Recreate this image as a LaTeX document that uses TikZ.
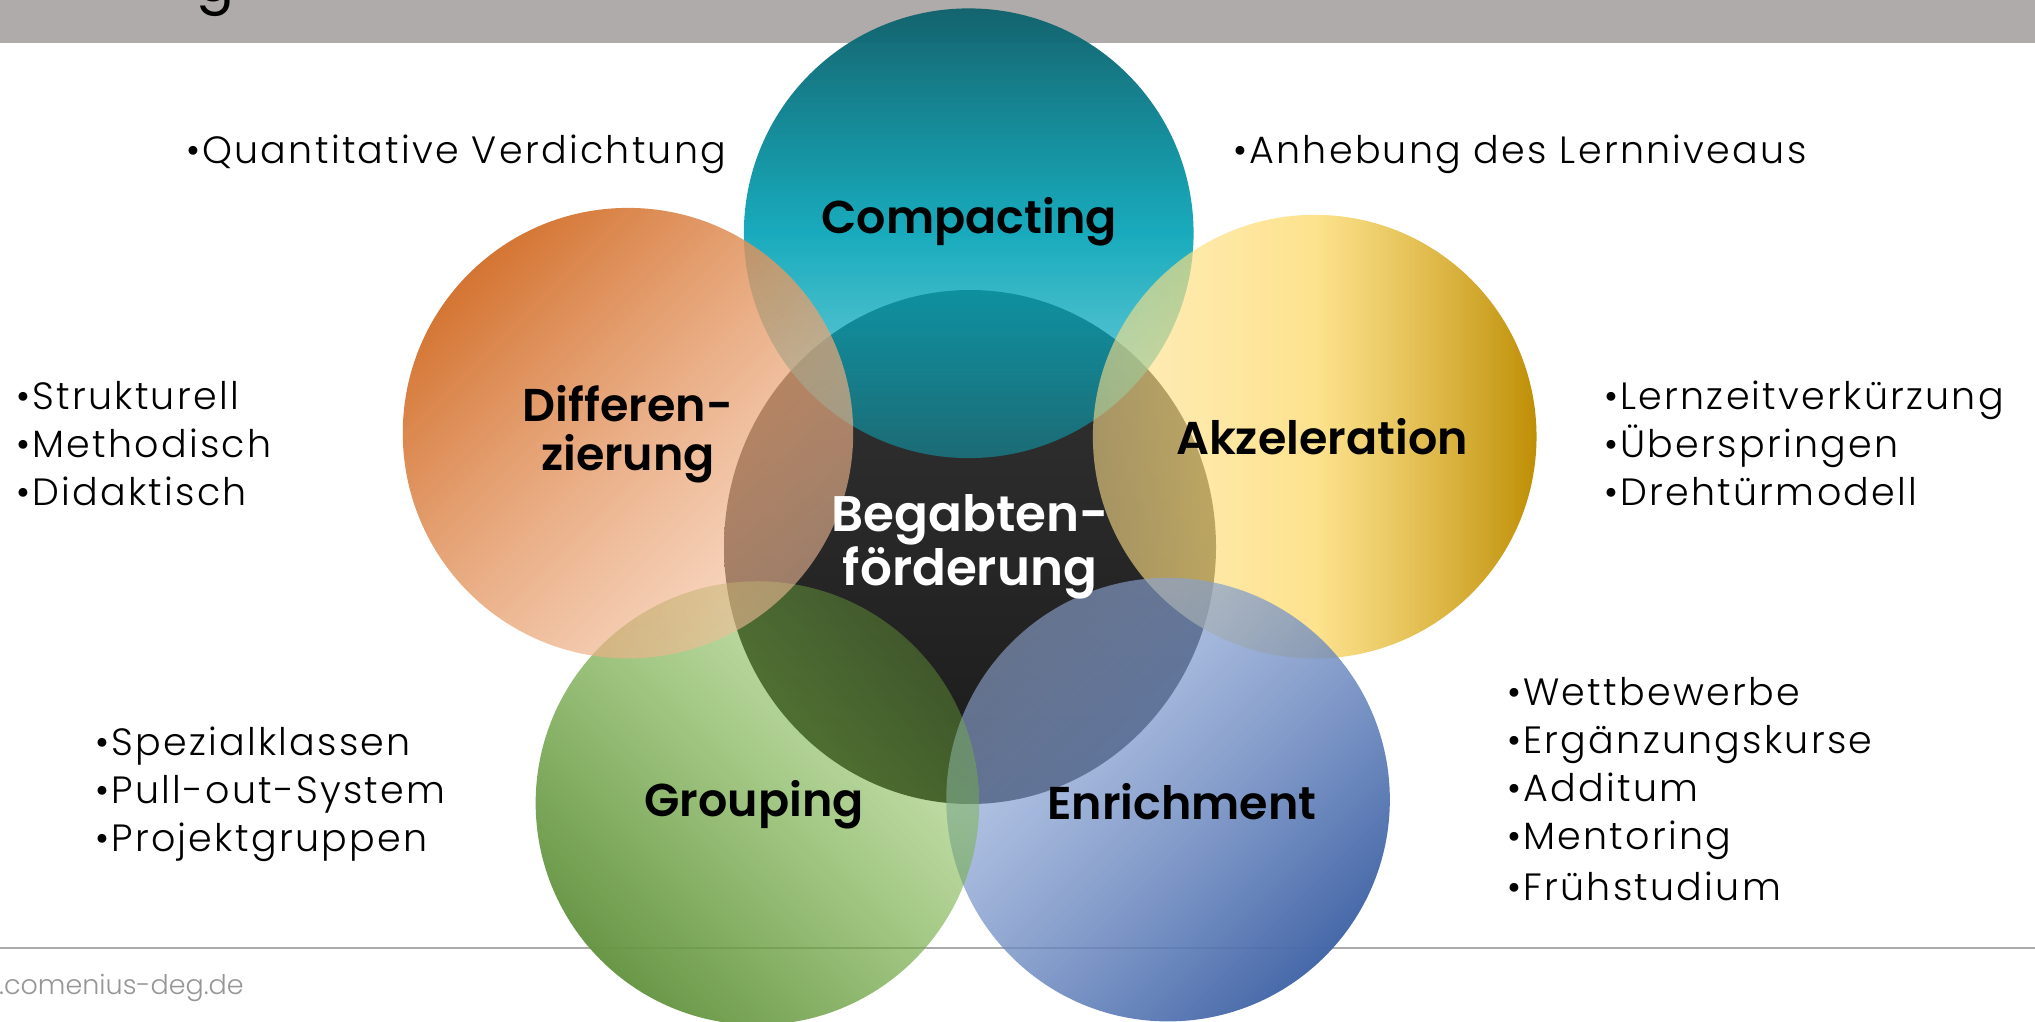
\documentclass[tikz,border=0pt]{standalone}
\usepackage{fontspec}
\setmainfont{Poppins}[UprightFont=* Light, BoldFont=* SemiBold]
\newfontfamily\titlefont{Poppins}
\usetikzlibrary{fadings}

\definecolor{bandgray}{RGB}{175,171,170}
\definecolor{rulegray}{RGB}{170,170,170}
\definecolor{footgray}{RGB}{150,150,150}
\definecolor{darktop}{RGB}{52,52,52}
\definecolor{darkbot}{RGB}{26,26,26}
\definecolor{tealtop}{RGB}{20,100,110}
\definecolor{tealmid}{RGB}{4,164,183}
\definecolor{tealbot}{RGB}{12,170,190}
\definecolor{orangetl}{RGB}{212,116,50}
\definecolor{orangebr}{RGB}{244,190,154}
\definecolor{yellowl}{RGB}{255,224,140}
\definecolor{yellowm}{RGB}{252,219,111}
\definecolor{yellowr}{RGB}{190,142,4}
\definecolor{greenbl}{RGB}{104,150,70}
\definecolor{greentr}{RGB}{122,186,64}
\definecolor{bluetl}{RGB}{150,174,220}
\definecolor{bluebr}{RGB}{70,104,168}

\tikzfading[name=fadeside, top color=transparent!0, bottom color=transparent!42]
\tikzfading[name=fadegreen, top color=transparent!0, bottom color=transparent!64]
\tikzfading[name=fadeteal, top color=transparent!0, bottom color=transparent!50, middle color=transparent!8]

\begin{document}
\begin{tikzpicture}[x=1pt, y=-1pt,
    listtext/.style={anchor=north west, align=left, inner sep=0pt, font=\fontsize{38}{48}\selectfont\addfontfeature{LetterSpace=6}},
    ringlabel/.style={align=center, inner sep=0pt, font=\fontsize{46}{49}\selectfont\bfseries}]
    \useasboundingbox (0,0) rectangle (2035,1022);

    \coordinate (core) at (970,547);
    \coordinate (comp) at (969,233);
    \coordinate (diff) at (628,431);
    \coordinate (akz)  at (1317,439);
    \coordinate (grp)  at (754,803);
    \coordinate (enr)  at (1168,803);

    \fill[bandgray] (0,0) rectangle (2035,43);
    \node[anchor=base west, inner sep=0pt, font=\titlefont\fontsize{56}{60}\selectfont] (title) at (196,2) {g};
    \draw[rulegray, line width=2pt] (0,948) -- (2035,948);
    \node[anchor=base west, inner sep=0pt, text=footgray, font=\fontsize{27}{30}\selectfont] (web) at (-1,994) {.comenius-deg.de};

    \shade[top color=darktop, bottom color=darkbot] (core) ellipse [x radius=246pt, y radius=257pt];
    \shade[top color=tealtop, bottom color=tealbot, middle color=tealmid, path fading=fadeteal] (comp) circle (225pt);
    \shade[left color=yellowl, right color=yellowr, middle color=yellowm, path fading=fadeside, fading angle=-90] (akz) circle (223pt);
    \shade[top color=bluetl, bottom color=bluebr, shading angle=45, path fading=fadeside, fading angle=225] (enr) circle (223pt);
    \shade[top color=greenbl, bottom color=greentr, shading angle=135, path fading=fadegreen, fading angle=135] (grp) circle (223pt);
    \shade[top color=orangetl, bottom color=orangebr, shading angle=45, path fading=fadeside, fading angle=45] (diff) circle (226pt);

    \node[ringlabel] (compl) at (969,222) {Compacting};
    \node[ringlabel] (diffl) at (628,434) {Differen-\\zierung};
    \node[ringlabel] (akzl)  at (1322,437) {Akzeleration};
    \node[ringlabel] (grpl)  at (754,805) {Grouping};
    \node[ringlabel] (enrl)  at (1182,802) {Enrichment};
    \node[ringlabel, text=white, font=\fontsize{50}{51}\selectfont\bfseries] (corel) at (970,547) {Begabten-\\förderung};

    \node[listtext] (quant) at (186,135) {•Quantitative Verdichtung};
    \node[listtext] (anheb) at (1233,135) {•Anhebung des Lernniveaus};
    \node[listtext] (diffx) at (16,381) {•Strukturell\\•Methodisch\\•Didaktisch};
    \node[listtext] (akzx)  at (1604,381) {•Lernzeitverkürzung\\•Überspringen\\•Drehtürmodell};
    \node[listtext] (grpx)  at (95,727) {•Spezialklassen\\•Pull-out-System\\•Projektgruppen};
    \node[listtext] (enrx)  at (1507,677) {•Wettbewerbe\\•Ergänzungskurse\\•Additum\\•Mentoring\\[3pt]•Frühstudium};
\end{tikzpicture}
\end{document}
